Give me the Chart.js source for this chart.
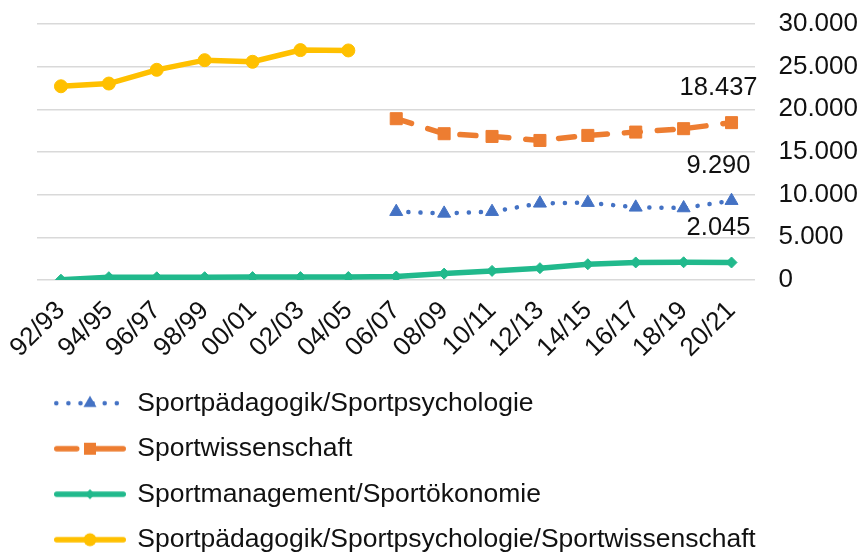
<!DOCTYPE html>
<html>
<head>
<meta charset="UTF-8">
<script src="https://cdn.jsdelivr.net/npm/chart.js@4.4.1/dist/chart.umd.min.js"></script>
<style>
    body { margin: 0; background: #fff; }
    #wrap { width: 861px; height: 553px; }
</style>
</head>
<body>
<div id="wrap"><canvas id="myChart"></canvas></div>

<script>
    // Studienjahre
    const years = ['92/93', '94/95', '96/97', '98/99', '00/01', '02/03', '04/05', '06/07',
                   '08/09', '10/11', '12/13', '14/15', '16/17', '18/19', '20/21'];

    // Studierende je Studiengang
    const paedPsych  = [null, null, null, null, null, null, null, 8000, 7800, 8000, 8980, 9060, 8510, 8430, 9290];
    const sportwiss  = [null, null, null, null, null, null, null, 18900, 17140, 16820, 16350, 16940, 17330, 17730, 18437];
    const management = [30, 320, 310, 320, 330, 330, 340, 400, 740, 1060, 1380, 1840, 2050, 2070, 2045];
    const kombiniert = [22700, 23020, 24630, 25760, 25570, 26940, 26900, null, null, null, null, null, null, null, null];

    const yTicks = [0, 5000, 10000, 15000, 20000, 25000, 30000];

    const FONT = '"Liberation Sans", Arial, sans-serif';
    const TEXT = '#111';

    function fmt(v) {
        return String(v).replace(/\B(?=(\d{3})+(?!\d))/g, '.');
    }

    // small line + marker icons for the legend
    function makeIcon(color, dash, lw, shape, r) {
        const c = document.createElement('canvas');
        c.width = 72; c.height = 20;
        const g = c.getContext('2d');
        g.strokeStyle = color;
        g.fillStyle = color;
        g.lineWidth = lw;
        g.lineCap = 'round';
        g.setLineDash(dash);
        g.beginPath();
        g.moveTo(lw / 2, 10);
        g.lineTo(72 - lw / 2, 10);
        g.stroke();
        g.setLineDash([]);
        g.beginPath();
        if (shape === 'triangle') {
            g.moveTo(36, 10 - r); g.lineTo(36 + r * 0.87, 10 + r / 2); g.lineTo(36 - r * 0.87, 10 + r / 2);
        } else if (shape === 'rect') {
            g.rect(36 - r, 10 - r, 2 * r, 2 * r);
        } else if (shape === 'rectRot') {
            g.moveTo(36, 10 - r); g.lineTo(36 + r, 10); g.lineTo(36, 10 + r); g.lineTo(36 - r, 10);
        } else {
            g.arc(36, 10, r, 0, Math.PI * 2);
        }
        g.closePath();
        g.fill();
        return c;
    }

    const blue = '#4472C4', orange = '#ED7D31', green = '#21B98C', yellow = '#FFC000';

    const legendIcons = [
        makeIcon(blue, [0.1, 12], 4.5, 'triangle', 7.5),
        makeIcon(orange, [20, 12, 40], 5.5, 'rect', 6),
        makeIcon(green, [], 5.5, 'rectRot', 5),
        makeIcon(yellow, [], 5.5, 'circle', 6.5)
    ];

    const lastValueLabels = {
        id: 'lastValueLabels',
        afterDatasetsDraw(chart) {
            const ctx = chart.ctx;
            ctx.save();
            ctx.font = '25.5px ' + FONT;
            ctx.fillStyle = TEXT;
            ctx.textAlign = 'center';
            ctx.textBaseline = 'middle';
            [0, 1, 2].forEach(i => {
                const data = chart.data.datasets[i].data;
                const last = data.length - 1;
                const pt = chart.getDatasetMeta(i).data[last];
                ctx.fillText(fmt(data[last]), pt.x - 13, pt.y - 35);
            });
            ctx.restore();
        }
    };

    var ctx = document.getElementById('myChart').getContext('2d');
    var chart = new Chart(ctx, {
        type: 'line',
        data: {
            labels: years,
            datasets: [
                {
                    label: 'Sportpädagogik/Sportpsychologie',
                    data: paedPsych,
                    borderColor: blue,
                    backgroundColor: blue,
                    borderWidth: 4.5,
                    borderDash: [0.1, 12],
                    borderCapStyle: 'round',
                    pointStyle: 'triangle',
                    pointRadius: 7.5,
                    pointBorderWidth: 1
                },
                {
                    label: 'Sportwissenschaft',
                    data: sportwiss,
                    borderColor: orange,
                    backgroundColor: orange,
                    borderWidth: 5.5,
                    borderDash: [16, 17],
                    borderCapStyle: 'round',
                    pointStyle: 'rect',
                    pointRadius: 8.5,
                    pointBorderWidth: 1
                },
                {
                    label: 'Sportmanagement/Sportökonomie',
                    data: management,
                    borderColor: green,
                    backgroundColor: green,
                    borderWidth: 5.5,
                    pointStyle: 'rectRot',
                    pointRadius: 5.5,
                    pointBorderWidth: 1
                },
                {
                    label: 'Sportpädagogik/Sportpsychologie/Sportwissenschaft',
                    data: kombiniert,
                    borderColor: yellow,
                    backgroundColor: yellow,
                    borderWidth: 5.5,
                    pointStyle: 'circle',
                    pointRadius: 6.5,
                    pointBorderWidth: 1
                }
            ]
        },
        options: {
            responsive: true,
            maintainAspectRatio: false,
            animation: false,
            layout: { padding: { top: 24, right: 3, bottom: -10, left: 37 } },
            scales: {
                x: {
                    offset: true,
                    grid: { display: false },
                    border: { display: false },
                    ticks: {
                        color: TEXT,
                        font: { size: 26, family: FONT },
                        minRotation: 45,
                        maxRotation: 45,
                        autoSkip: false,
                        padding: 7.5
                    }
                },
                y: {
                    position: 'right',
                    min: 0,
                    max: 30000,
                    afterBuildTicks: axis => { axis.ticks = yTicks.map(v => ({ value: v })); },
                    grid: {
                        color: '#d9d9d9',
                        lineWidth: 1.5,
                        drawTicks: true,
                        tickLength: 23,
                        tickColor: 'rgba(0,0,0,0)'
                    },
                    border: { display: false },
                    ticks: {
                        color: TEXT,
                        font: { size: 26, family: FONT },
                        padding: 0,
                        callback: v => fmt(v)
                    }
                }
            },
            plugins: {
                tooltip: { enabled: false },
                legend: {
                    position: 'bottom',
                    align: 'start',
                    fullSize: false,
                    labels: {
                        color: TEXT,
                        font: { size: 26.5, family: FONT },
                        usePointStyle: true,
                        pointStyleWidth: 68,
                        padding: 19,
                        generateLabels(chart) {
                            const items = Chart.defaults.plugins.legend.labels.generateLabels(chart);
                            items.forEach((it, i) => { it.pointStyle = legendIcons[i]; });
                            return items;
                        }
                    }
                }
            }
        },
        plugins: [lastValueLabels]
    });
</script>
</body>
</html>
